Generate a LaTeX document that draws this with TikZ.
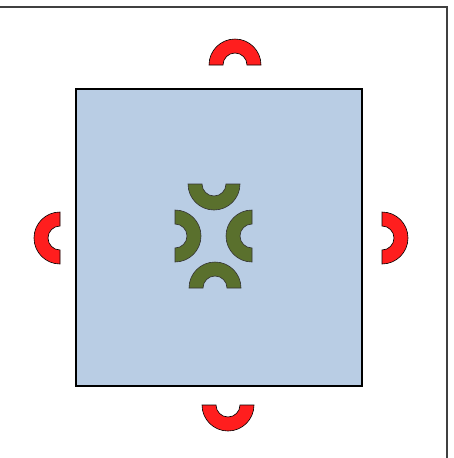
\documentclass[tikz,border=0pt]{standalone}
\definecolor{boxblue}{RGB}{185,205,228}
\definecolor{ringred}{RGB}{255,30,30}
\definecolor{ringgreen}{RGB}{90,112,45}
% half ring: #1 style, #2 centre, #3 start angle
\newcommand{\halfring}[3]{%
  \draw[#1] ([shift={(#3:26)}]#2) arc[start angle=#3, delta angle=180, radius=26]
    -- ([shift={(#3+180:12)}]#2) arc[start angle=#3+180, delta angle=-180, radius=12] -- cycle;
}
\begin{document}
\begin{tikzpicture}[x=1pt, y=-1pt,
    redring/.style={fill=ringred, draw=black, line width=0.6pt},
    greenring/.style={fill=ringgreen, draw=black!80, line width=0.6pt}]
  \clip (0,0) rectangle (454,458);
  % 1. outer frame
  \draw[line width=1.5pt, black!75] (-20,7) -- (447,7) -- (447,480);
  % 2. square
  \draw[fill=boxblue, line width=2.2pt] (76,89) rectangle (362,386);
  % 3. red rings round the square
  \coordinate (rtop) at (235,65);
  \coordinate (rleft) at (60,238);
  \coordinate (rright) at (382,238);
  \coordinate (rbottom) at (228,405);
  \halfring{redring}{rtop}{180}
  \halfring{redring}{rbottom}{0}
  \halfring{redring}{rleft}{90}
  \halfring{redring}{rright}{270}
  % 4. green rings in the middle
  \coordinate (gtop) at (214,184);
  \coordinate (gbottom) at (215,288);
  \coordinate (gleft) at (175,236);
  \coordinate (gright) at (252,236);
  \halfring{greenring}{gtop}{0}
  \halfring{greenring}{gbottom}{180}
  \halfring{greenring}{gleft}{270}
  \halfring{greenring}{gright}{90}
\end{tikzpicture}
\end{document}
